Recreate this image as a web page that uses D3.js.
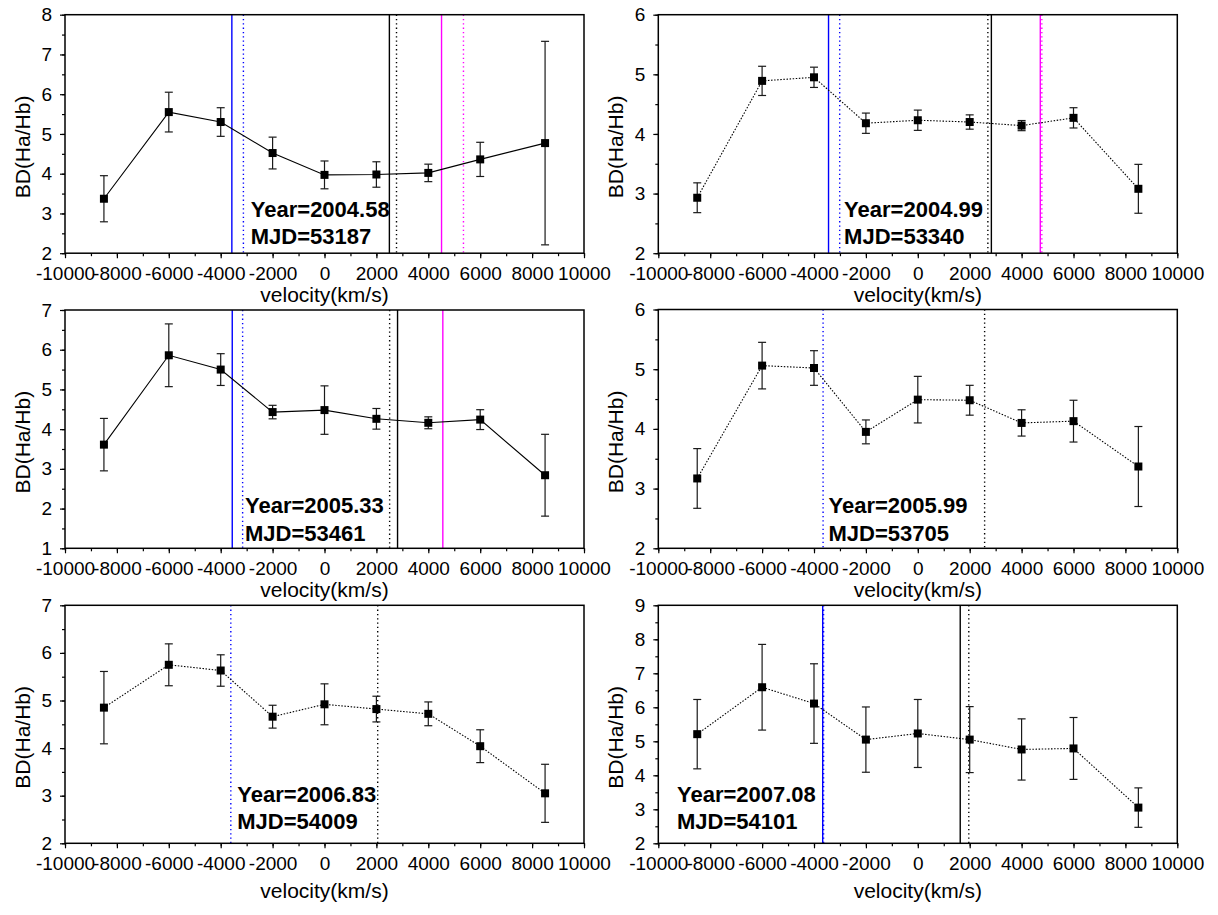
<!DOCTYPE html>
<html>
<head>
<meta charset="utf-8">
<script src="https://cdn.jsdelivr.net/npm/d3@7"></script>
<style>
  body { margin: 0; background: #fff; }
  svg text { font-family: "Liberation Sans", Arial, sans-serif; }
</style>
</head>
<body>
<script>
// velocity bins (km/s)
const velocity = [-8500, -6000, -4000, -2000, 0, 2000, 4000, 6000, 8500];

// Balmer decrement per epoch, with 1-sigma errors
const bd_53187 = [3.37, 5.55, 5.30, 4.52, 3.97, 3.98, 4.02, 4.36, 4.77];
const err_53187 = [0.58, 0.50, 0.36, 0.40, 0.35, 0.32, 0.22, 0.43, 2.56];
const bd_53340 = [2.93, 4.89, 4.95, 4.18, 4.23, 4.20, 4.14, 4.27, 3.08];
const err_53340 = [0.25, 0.245, 0.17, 0.17, 0.17, 0.12, 0.085, 0.17, 0.41];
const bd_53461 = [3.61, 5.86, 5.50, 4.43, 4.48, 4.26, 4.16, 4.24, 2.84];
const err_53461 = [0.66, 0.79, 0.40, 0.17, 0.61, 0.26, 0.15, 0.25, 1.03];
const bd_53705 = [3.17, 5.06, 5.02, 3.95, 4.49, 4.48, 4.10, 4.13, 3.37];
const err_53705 = [0.50, 0.39, 0.29, 0.20, 0.39, 0.25, 0.22, 0.35, 0.67];
const bd_54009 = [4.85, 5.75, 5.63, 4.66, 4.92, 4.82, 4.72, 4.04, 3.05];
const err_54009 = [0.76, 0.44, 0.33, 0.24, 0.43, 0.27, 0.25, 0.345, 0.61];
const bd_54101 = [5.21, 6.59, 6.11, 5.05, 5.23, 5.05, 4.76, 4.79, 3.05];
const err_54101 = [1.02, 1.26, 1.17, 0.96, 1.00, 0.97, 0.90, 0.91, 0.58];

// marker velocities drawn as vertical lines [velocity, colour, dotted]
const marks_53187 = [[-3570, "blue", 0], [-3125, "blue", 1], [2500, "black", 0], [2775, "black", 1], [4510, "magenta", 0], [5355, "magenta", 1]];
const marks_53340 = [[-3440, "blue", 0], [-3010, "blue", 1], [2700, "black", 1], [2835, "black", 0], [4720, "magenta", 0], [4780, "magenta", 1]];
const marks_53461 = [[-3555, "blue", 0], [-3155, "blue", 1], [2510, "black", 1], [2815, "black", 0], [4560, "magenta", 0]];
const marks_53705 = [[-3650, "blue", 1], [2575, "black", 1]];
const marks_54009 = [[-3610, "blue", 1], [2050, "black", 1]];
const marks_54101 = [[-3665, "blue", 0], [-3630, "blue", 1], [1635, "black", 0], [1965, "black", 1]];

const years = ["2004.58", "2004.99", "2005.33", "2005.99", "2006.83", "2007.08"];
const mjds = ["53187", "53340", "53461", "53705", "54009", "54101"];
const yDomains = [[2, 8], [2, 6], [1, 7], [2, 6], [2, 7], [2, 9]];
const xTicks = [-10000, -8000, -6000, -4000, -2000, 0, 2000, 4000, 6000, 8000, 10000];

const series = [
  [bd_53187, err_53187, marks_53187, false],
  [bd_53340, err_53340, marks_53340, true],
  [bd_53461, err_53461, marks_53461, false],
  [bd_53705, err_53705, marks_53705, true],
  [bd_54009, err_54009, marks_54009, true],
  [bd_54101, err_54101, marks_54101, true]
];

// panel boxes and text placement
const layout = [
  { x: 65, y: 14.7, w: 519, h: 238.5, lab: 49, tx: -2840, ty: 36.5 },
  { x: 658.3, y: 14.7, w: 519, h: 238.5, lab: 49, tx: -2840, ty: 36.5 },
  { x: 65, y: 310, w: 519, h: 238.3, lab: 49, tx: -3065, ty: 35 },
  { x: 658.3, y: 309.5, w: 519, h: 238.8, lab: 49, tx: -3440, ty: 35 },
  { x: 65, y: 605.3, w: 519, h: 238, lab: 55, tx: -3360, ty: 41.6 },
  { x: 658.3, y: 605.3, w: 519, h: 238, lab: 55, tx: -9280, ty: 41.6 }
];

const svg = d3.select("body").append("svg")
  .attr("width", 1218).attr("height", 915);

series.forEach(([bd, err, marks, dotted], i) => {
  const L = layout[i];
  const g = svg.append("g").attr("transform", `translate(${L.x},${L.y})`);
  const x = d3.scaleLinear().domain([-10000, 10000]).range([0, L.w]);
  const y = d3.scaleLinear().domain(yDomains[i]).range([L.h, 0]);

  // vertical marker lines
  g.selectAll(".mark").data(marks).enter().append("line")
    .attr("x1", d => x(d[0])).attr("x2", d => x(d[0]))
    .attr("y1", 0).attr("y2", L.h)
    .attr("stroke", d => d[1])
    .attr("stroke-width", 1.4)
    .attr("stroke-dasharray", d => d[2] ? "1.3,3" : null);

  const pts = velocity.map((v, k) => ({ v, b: bd[k], e: err[k] }));

  // connecting line
  g.append("path").datum(pts)
    .attr("fill", "none").attr("stroke", "#000").attr("stroke-width", 1.1)
    .attr("stroke-dasharray", dotted ? "1.5,1.6" : null)
    .attr("d", d3.line().x(d => x(d.v)).y(d => y(d.b)));

  // error bars
  const eb = g.selectAll(".eb").data(pts).enter().append("g").attr("stroke", "#1a1a1a").attr("stroke-width", 1.2);
  eb.append("line").attr("x1", d => x(d.v)).attr("x2", d => x(d.v))
    .attr("y1", d => y(d.b - d.e)).attr("y2", d => y(d.b + d.e));
  eb.append("line").attr("x1", d => x(d.v) - 4).attr("x2", d => x(d.v) + 4)
    .attr("y1", d => y(d.b + d.e)).attr("y2", d => y(d.b + d.e));
  eb.append("line").attr("x1", d => x(d.v) - 4).attr("x2", d => x(d.v) + 4)
    .attr("y1", d => y(d.b - d.e)).attr("y2", d => y(d.b - d.e));

  // square markers
  g.selectAll(".pt").data(pts).enter().append("rect")
    .attr("x", d => x(d.v) - 4).attr("y", d => y(d.b) - 4)
    .attr("width", 8).attr("height", 8).attr("fill", "#000");

  // annotation
  const ann = g.append("g").attr("font-weight", "bold").attr("font-size", 22);
  ann.append("text").attr("x", x(L.tx)).attr("y", L.h - L.ty).text("Year=" + years[i]);
  ann.append("text").attr("x", x(L.tx)).attr("y", L.h - L.ty + 27.3).text("MJD=" + mjds[i]);

  // axes
  const xMinor = g.append("g").attr("transform", `translate(0,${L.h})`)
    .call(d3.axisBottom(x).tickValues(d3.range(-10000, 10001, 1000)).tickSize(3).tickFormat(""));
  const xMajor = g.append("g").attr("transform", `translate(0,${L.h})`)
    .call(d3.axisBottom(x).tickValues(xTicks).tickSize(5).tickPadding(8).tickFormat(d => String(d)));
  const [y0, y1] = yDomains[i];
  const yMinor = g.append("g")
    .call(d3.axisLeft(y).tickValues(d3.range(y0, y1 + 0.01, 0.5)).tickSize(3).tickFormat(""));
  const yMajor = g.append("g")
    .call(d3.axisLeft(y).tickValues(d3.range(y0, y1 + 0.01, 1)).tickSize(5).tickPadding(8).tickFormat(d => String(d)));
  [xMinor, xMajor, yMinor, yMajor].forEach(a => {
    a.select(".domain").remove();
    a.selectAll("line").attr("stroke", "#000").attr("stroke-width", 1.2);
    a.selectAll("text").attr("font-size", 19).attr("fill", "#000")
      .style("font-family", "'Liberation Sans', Arial, sans-serif");
  });

  // frame
  g.append("rect").attr("width", L.w).attr("height", L.h)
    .attr("fill", "none").attr("stroke", "#000").attr("stroke-width", 1.5);

  // axis titles
  g.append("text").attr("x", L.w / 2).attr("y", L.h + L.lab)
    .attr("text-anchor", "middle").attr("font-size", 21).text("velocity(km/s)");
  g.append("text")
    .attr("transform", `translate(${-42.5},${L.h / 2 + 13}) rotate(-90)`)
    .attr("text-anchor", "middle").attr("dy", "0.35em")
    .attr("font-size", 21).text("BD(Ha/Hb)");
});
</script>
</body>
</html>
